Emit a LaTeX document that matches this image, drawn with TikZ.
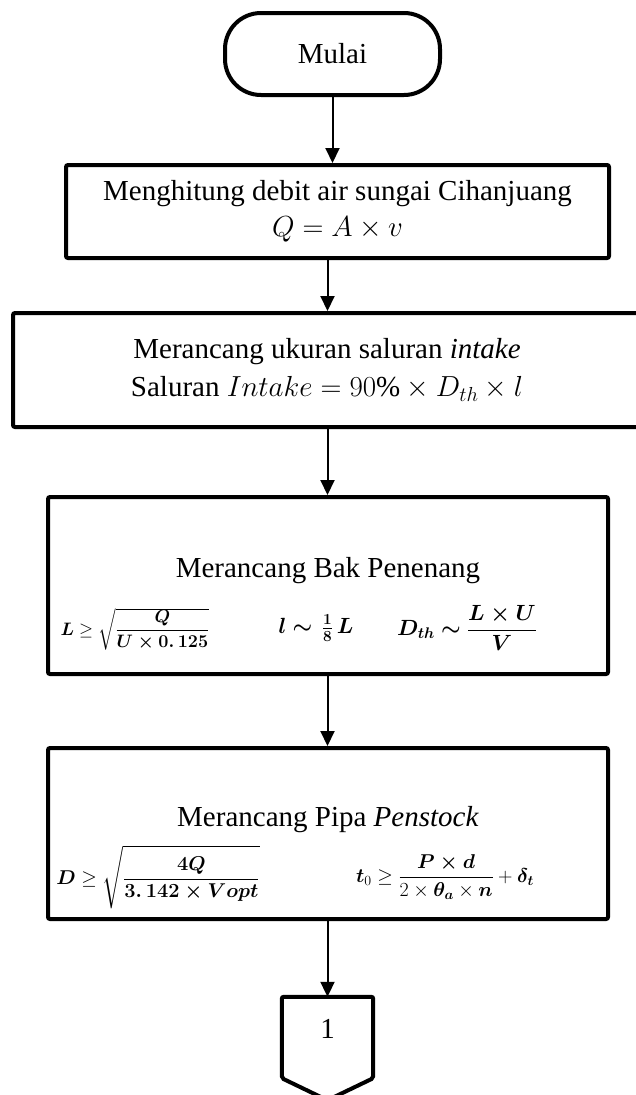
\documentclass[tikz,border=0pt]{standalone}
\usepackage{fix-cm}
\usepackage{amsmath}
\usepackage{fontspec}
\setmainfont{Liberation Serif}
\usetikzlibrary{arrows.meta,positioning,calc}
\newcommand{\bigtxt}{\fontsize{29}{36}\selectfont}
\newcommand{\eqtxt}{\fontsize{20}{24}\selectfont}
\newcommand{\bakeq}{\fontsize{22}{26}\selectfont}
\newcommand{\smalleq}{\fontsize{18}{21}\selectfont}
\tikzset{
  box/.style={
    draw, line width=4pt, rounded corners=2pt,
    inner sep=0pt, align=center, font=\bigtxt
  },
  term/.style={
    draw, line width=4pt, rounded corners=36pt,
    inner sep=0pt, font=\bigtxt
  },
  eq/.style={inner sep=0pt, font=\eqtxt},
  arrow/.style={-{Triangle[length=15pt,width=14pt]}, line width=2pt}
}

\begin{document}
\begin{tikzpicture}[x=1pt, y=-1pt]
    \useasboundingbox (0,0) rectangle (636,1095);

    \node[term, minimum width=215pt, minimum height=82pt] (mulai) at (332.5,54) {Mulai};
    \node[box, minimum width=543pt, minimum height=93pt] (debit) at (337.5,211.5)
      {Menghitung debit air sungai Cihanjuang\\$Q = A \times v$};
    \node[box, minimum width=628pt, minimum height=114pt] (intake) at (327,370)
      {Merancang ukuran saluran \textit{intake}\\[2pt]Saluran $Intake = 90\% \times D_{th} \times l$};

    % bak penenang
    \node[box, minimum width=560pt, minimum height=177pt] (bak) at (328,585.5) {};
    \node[font=\bigtxt] (baktitle) at (328,571) {Merancang Bak Penenang};
    \node[eq, font=\smalleq] (eqL) at (135,629)
      {$\boldsymbol{L} \geq \sqrt{\dfrac{\boldsymbol{Q}}{\boldsymbol{U \times 0.\,125}}}$};
    \node[eq, font=\bakeq] (eql) at (316,628)
      {$\boldsymbol{l}\boldsymbol{\sim}\,\tfrac{\boldsymbol{1}\rule[-3pt]{0pt}{3pt}}{\rule{0pt}{12pt}\boldsymbol{8}}\,\boldsymbol{L}$};
    \node[eq, font=\bakeq] (eqD) at (467,628)
      {$\boldsymbol{D_{th}}\boldsymbol{\sim}\dfrac{\boldsymbol{L \times U}}{\boldsymbol{V}}$};

    % pipa penstock
    \node[box, minimum width=560pt, minimum height=171pt] (pipa) at (328,833.5) {};
    \node[font=\bigtxt] (pipatitle) at (328,820) {Merancang Pipa \textit{Penstock}};
    \node[eq] (eqpipa) at (158,877)
      {$\boldsymbol{D} \geq \sqrt{\dfrac{\rule{0pt}{1.05em}\boldsymbol{4Q}}{\boldsymbol{3.\,142 \times Vopt}\rule[-0.45em]{0pt}{0.45em}}}$};
    \node[eq] (eqtebal) at (445,877)
      {$\boldsymbol{t}_0 \geq \dfrac{\boldsymbol{P \times d}}{2 \times \boldsymbol{\theta_a} \times \boldsymbol{n}} + \boldsymbol{\delta_t}$};

    % off-page connector
    \node[minimum width=91pt, minimum height=81pt, inner sep=0pt, text depth=18pt, font=\bigtxt] (con) at (327.5,1037.5) {1};
    \draw[line width=4pt, rounded corners=2pt] (con.north west) -- (con.north east) -- (con.south east)
      -- ($(con.south)+(0,22)$) -- (con.south west) -- cycle;

    \draw[arrow] (mulai) -- (mulai |- debit.north);
    \draw[arrow] (debit.south -| con) -- (con |- intake.north);
    \draw[arrow] (intake.south -| con) -- (con |- bak.north);
    \draw[arrow] (bak.south -| con) -- (con |- pipa.north);
    \draw[arrow] (pipa.south -| con) -- (con.north);
\end{tikzpicture}
\end{document}
